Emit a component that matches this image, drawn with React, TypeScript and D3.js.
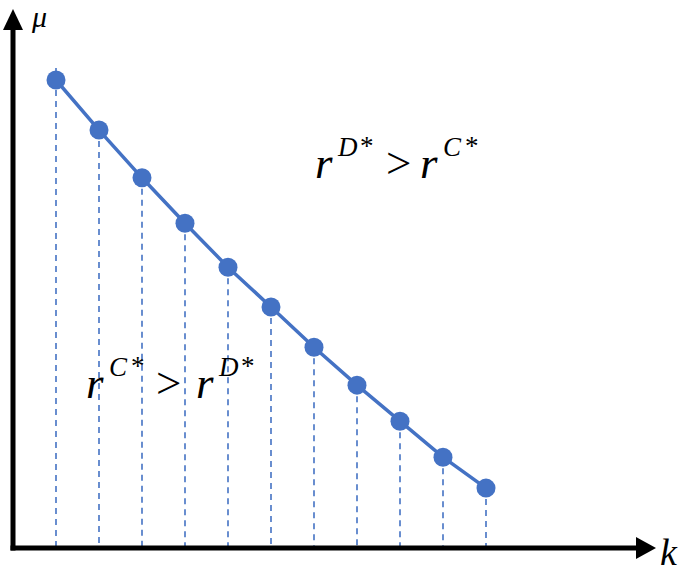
import React from "react";
import { scaleLinear, line } from "d3";

// k index and mu values
const kValues = [1, 2, 3, 4, 5, 6, 7, 8, 9, 10, 11];
const muValues = [100, 89.3, 79.1, 69.4, 60.0, 51.5, 42.9, 34.8, 27.1, 19.4, 12.8];

const WIDTH = 685;
const HEIGHT = 572;
const BLUE = "#4472C4";

export default function App() {
  // axis origin at (13, 548)
  const x = scaleLinear().domain([0, 15]).range([13, 658]);
  const y = scaleLinear().domain([0, 100]).range([548, 80]);

  const pts = kValues.map((k, i) => [x(k), y(muValues[i])] as [number, number]);
  const pathD = line()(pts) || "";

  const x0 = x(0);
  const y0 = y(0);
  const serif = "'Liberation Serif', 'DejaVu Serif', serif";

  return (
    <svg
      width={WIDTH}
      height={HEIGHT}
      style={{ position: "absolute", left: 0, top: 0, background: "#fff" }}
    >
      {/* dashed drop lines */}
      {pts.map(([px, py], i) => (
        <line
          key={"d" + i}
          x1={px}
          x2={px}
          y1={i === 0 ? py - 12 : py}
          y2={y0}
          stroke={BLUE}
          strokeWidth={1.6}
          strokeDasharray="6,5"
        />
      ))}

      {/* main line */}
      <path d={pathD} fill="none" stroke={BLUE} strokeWidth={3.5} />
      {pts.map(([px, py], i) => (
        <circle key={"c" + i} cx={px} cy={py} r={9.5} fill={BLUE} />
      ))}

      {/* y axis with arrow */}
      <line x1={x0} x2={x0} y1={y0 + 2.5} y2={28} stroke="#000" strokeWidth={5} />
      <polygon points={`${x0 - 10},${30} ${x0 + 10},${30} ${x0},${9}`} fill="#000" />

      {/* x axis with arrow */}
      <line x1={x0 - 2.5} x2={638} y1={y0} y2={y0} stroke="#000" strokeWidth={5} />
      <polygon
        points={`${636},${y0 - 11} ${636},${y0 + 11} ${656},${y0}`}
        fill="#000"
      />

      {/* axis labels */}
      <text x={32} y={27} fontFamily={serif} fontStyle="italic" fontSize={30}>
        μ
      </text>
      <text x={660} y={565} fontFamily={serif} fontStyle="italic" fontSize={38}>
        k
      </text>

      {/* upper region label: r^{D*} > r^{C*} */}
      <g fontFamily={serif} fill="#000">
        <text x={315} y={178} fontStyle="italic" fontSize={45}>r</text>
        <text x={338} y={156} fontStyle="italic" fontSize={27}>D</text>
        <text x={360} y={155} fontSize={27}>*</text>
        <text x={386} y={178} fontSize={45}>&gt;</text>
        <text x={420} y={178} fontStyle="italic" fontSize={45}>r</text>
        <text x={443} y={156} fontStyle="italic" fontSize={27}>C</text>
        <text x={465} y={155} fontSize={27}>*</text>
      </g>

      {/* lower region label: r^{C*} > r^{D*} */}
      <g fontFamily={serif} fill="#000">
        <text x={86} y={398} fontStyle="italic" fontSize={45}>r</text>
        <text x={109} y={376} fontStyle="italic" fontSize={27}>C</text>
        <text x={131} y={375} fontSize={27}>*</text>
        <text x={156} y={398} fontSize={45}>&gt;</text>
        <text x={196} y={398} fontStyle="italic" fontSize={45}>r</text>
        <text x={219} y={376} fontStyle="italic" fontSize={27}>D</text>
        <text x={241} y={375} fontSize={27}>*</text>
      </g>
    </svg>
  );
}
